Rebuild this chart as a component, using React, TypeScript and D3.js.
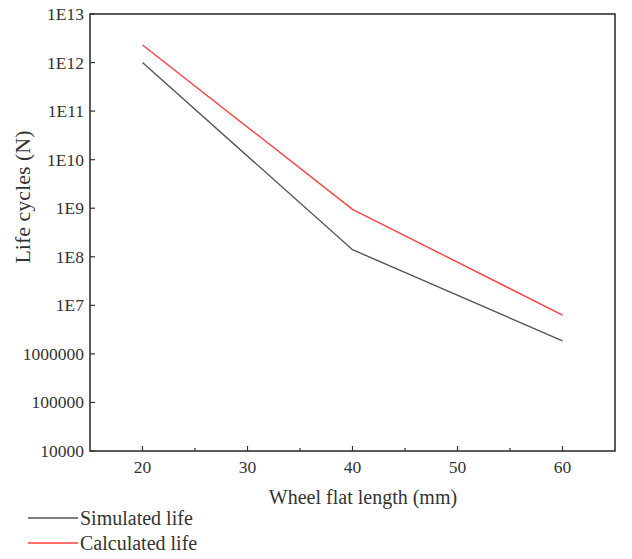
import React from "react";
import * as d3 from "d3";

const lengths = [20, 40, 60];
const simulatedLife = [1.0e12, 1.4e8, 1.85e6];
const calculatedLife = [2.3e12, 9.5e8, 6.3e6];
const xTicks = [20, 30, 40, 50, 60];
const xMinorTicks = [25, 35, 45, 55];
const yTicks = [1e4, 1e5, 1e6, 1e7, 1e8, 1e9, 1e10, 1e11, 1e12, 1e13];
const yTickLabels = ["10000", "100000", "1000000", "1E7", "1E8", "1E9", "1E10", "1E11", "1E12", "1E13"];
const seriesNames = ["Simulated life", "Calculated life"];
const seriesColors = ["#555555", "#ff4040"];

const W = 632;
const H = 559;
const left = 90, right = 615, top = 14, bottom = 451;
const font = "'Liberation Serif', 'Times New Roman', serif";

export default function App() {
  const x = d3.scaleLinear().domain([15, 65]).range([left, right]);
  const y = d3.scaleLog().domain([1e4, 1e13]).range([bottom, top]);
  const line = d3
    .line<[number, number]>()
    .x((d) => x(d[0]))
    .y((d) => y(d[1]));
  const series = [simulatedLife, calculatedLife];
  const axisColor = "#333";

  return (
    <svg
      width={W}
      height={H}
      style={{ position: "absolute", left: 0, top: 0, background: "#fff" }}
    >
      <rect x={0} y={0} width={W} height={H} fill="#fff" />
      {series.map((vals, i) => (
        <path
          key={i}
          d={line(lengths.map((l, j) => [l, vals[j]] as [number, number])) || ""}
          fill="none"
          stroke={seriesColors[i]}
          strokeWidth={1.4}
        />
      ))}
      <rect
        x={left}
        y={top}
        width={right - left}
        height={bottom - top}
        fill="none"
        stroke={axisColor}
        strokeWidth={1.6}
      />
      {yTicks.map((t, i) => (
        <g key={t}>
          <line x1={left} x2={left + 5} y1={y(t)} y2={y(t)} stroke={axisColor} strokeWidth={1.2} />
          <text
            x={left - 6}
            y={y(t)}
            textAnchor="end"
            dominantBaseline="central"
            fontFamily={font}
            fontSize={17.5}
            fill="#333"
          >
            {yTickLabels[i]}
          </text>
        </g>
      ))}
      {xTicks.map((t) => (
        <g key={t}>
          <line x1={x(t)} x2={x(t)} y1={bottom} y2={bottom - 5} stroke={axisColor} strokeWidth={1.2} />
          <text
            x={x(t)}
            y={bottom + 16}
            textAnchor="middle"
            dominantBaseline="central"
            fontFamily={font}
            fontSize={17.5}
            fill="#333"
          >
            {t}
          </text>
        </g>
      ))}
      {xMinorTicks.map((t) => (
        <line key={t} x1={x(t)} x2={x(t)} y1={bottom} y2={bottom - 3} stroke={axisColor} strokeWidth={1.2} />
      ))}
      <text
        x={363}
        y={497}
        textAnchor="middle"
        dominantBaseline="central"
        fontFamily={font}
        fontSize={20}
        fill="#333"
      >
        Wheel flat length (mm)
      </text>
      <text
        transform={`translate(22, 197) rotate(-90)`}
        textAnchor="middle"
        dominantBaseline="central"
        fontFamily={font}
        fontSize={22}
        fill="#333"
      >
        Life cycles (N)
      </text>
      {seriesNames.map((name, i) => (
        <g key={name}>
          <line
            x1={28}
            x2={78}
            y1={518 + i * 25}
            y2={518 + i * 25}
            stroke={seriesColors[i]}
            strokeWidth={1.6}
          />
          <text
            x={80}
            y={518 + i * 25}
            dominantBaseline="central"
            fontFamily={font}
            fontSize={20}
            fill="#333"
          >
            {name}
          </text>
        </g>
      ))}
    </svg>
  );
}
